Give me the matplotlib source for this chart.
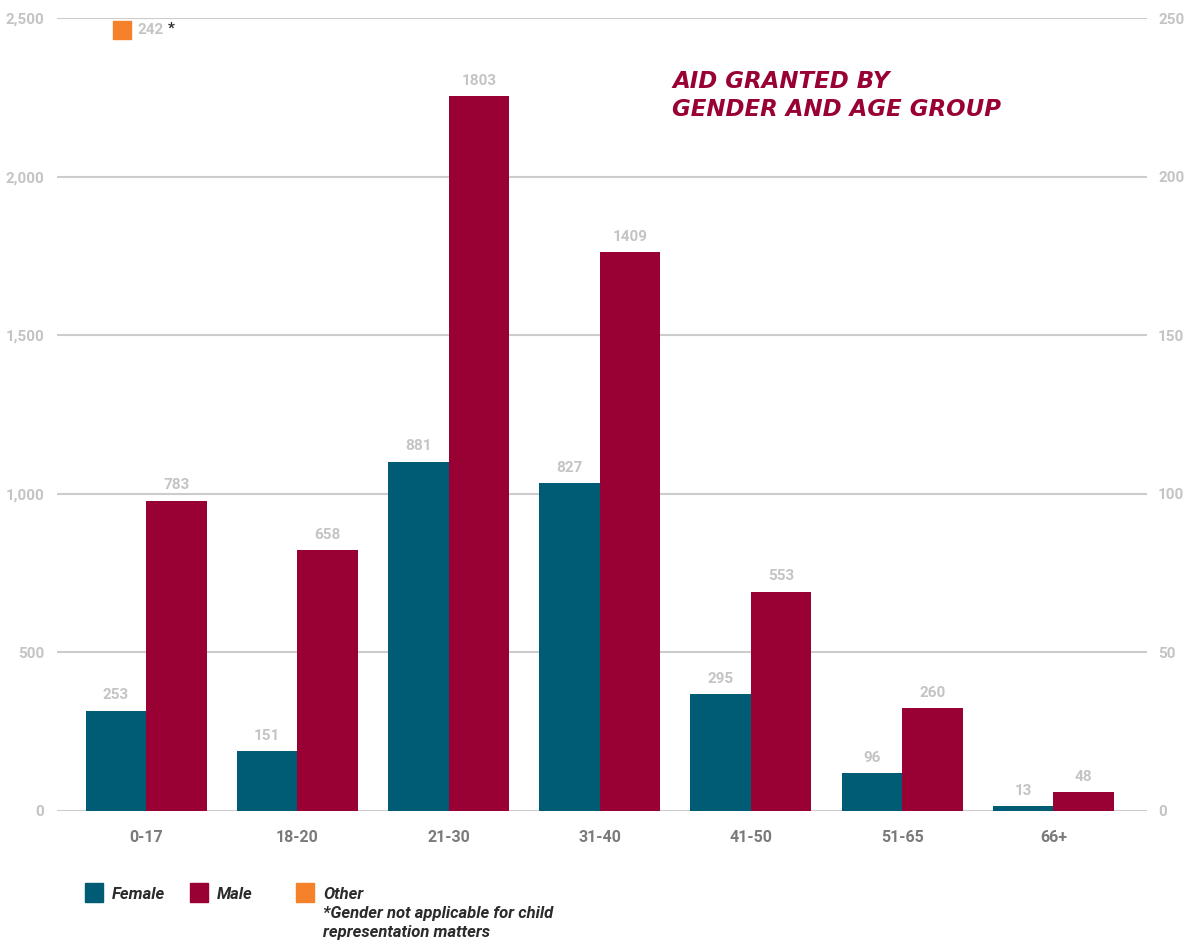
import matplotlib.pyplot as plt
import numpy as np
from matplotlib.patches import Rectangle
from matplotlib.ticker import FixedLocator, FuncFormatter
from matplotlib.transforms import ScaledTranslation

age_groups = ['0-17', '18-20', '21-30', '31-40', '41-50', '51-65', '66+']
female = [253, 151, 881, 827, 295, 96, 13]
male = [783, 658, 1803, 1409, 553, 260, 48]
other = 242  # only applies to 0-17

left_ticks = [0, 500, 1000, 1500, 2000, 2500]
right_ticks = [0, 50, 100, 150, 200, 250]
AXIS_SCALE = 1.25  # left axis labels run 1.25x the bar scale

TEAL = '#005b74'
CRIMSON = '#990033'
ORANGE = '#f5822a'
GRID = '#cccccc'
LIGHT = '#c4c4c4'
DARK = '#7a7a7a'
INK = '#2b2b2b'

plt.rcParams['font.family'] = ['Roboto', 'DejaVu Sans']

fig = plt.figure(figsize=(11.86, 9.44), dpi=100)
ax = fig.add_axes([57 / 1186, 1 - 811 / 944, 1090 / 1186, 793 / 944])

x = np.arange(len(age_groups))
width = 0.40
bf = ax.bar(x - width / 2, female, width, color=TEAL, zorder=3)
bm = ax.bar(x + width / 2, male, width, color=CRIMSON, zorder=3)
for rects, vals in ((bf, female), (bm, male)):
    ax.bar_label(rects, labels=[str(v) for v in vals], padding=6,
                 color=LIGHT, fontsize=11, fontweight='bold')

ax.set_xlim(-0.59, len(age_groups) - 1 + 0.62)
ax.set_ylim(0, left_ticks[-1] / AXIS_SCALE)
ax.yaxis.set_major_locator(FixedLocator([t / AXIS_SCALE for t in left_ticks]))
ax.yaxis.set_major_formatter(FuncFormatter(lambda v, p: f'{v * AXIS_SCALE:,.0f}'))
ax.grid(axis='y', color=GRID, linewidth=1.5, zorder=0)
ax.set_xticks(x, age_groups)
for s in ax.spines.values():
    s.set_visible(False)
ax.tick_params(axis='y', length=0, pad=9, labelcolor=LIGHT, labelsize=11)
ax.tick_params(axis='x', length=0, pad=14, labelcolor=DARK, labelsize=11.5)
for lbl in ax.get_yticklabels() + ax.get_xticklabels():
    lbl.set_fontweight('bold')

# secondary scale for the "Other" group
ax2 = ax.twinx()
ax2.set_ylim(0, right_ticks[-1])
ax2.set_yticks(right_ticks)
for s in ax2.spines.values():
    s.set_visible(False)
ax2.tick_params(axis='y', length=0, pad=8, labelcolor=LIGHT, labelsize=11)
for lbl in ax2.get_yticklabels():
    lbl.set_fontweight('bold')
lift = ax2.transData + ScaledTranslation(0, 0.13, fig.dpi_scale_trans)
ax2.scatter([-0.16], [other], marker='s', s=150, color=ORANGE, zorder=4,
            transform=lift)
ax2.annotate(f'{other}', (-0.16, other), xycoords=lift, xytext=(11, 0),
             textcoords='offset points', va='center', ha='left', color=LIGHT,
             fontsize=11, fontweight='bold')
ax2.annotate('*', (-0.16, other), xycoords=lift, xytext=(33, 1),
             textcoords='offset points', va='center', ha='left', color=INK,
             fontsize=11, fontweight='bold')

fig.text(672 / 1186, 1 - 70 / 944, 'AID GRANTED BY\nGENDER AND AGE GROUP',
         family=['DejaVu Sans'], fontsize=16.5, fontweight='bold',
         fontstyle='italic', color=CRIMSON, ha='left', va='top', linespacing=1.25)

# legend along the bottom
legend_items = [(85, TEAL, 'Female'), (190, CRIMSON, 'Male'),
                (296, ORANGE, 'Other\n*Gender not applicable for child\nrepresentation matters')]
for px, col, text in legend_items:
    fig.patches.append(Rectangle((px / 1186, 1 - 902 / 944), 18 / 1186, 19 / 944,
                                 transform=fig.transFigure, color=col))
    fig.text((px + 27) / 1186, 1 - 887 / 944, text, fontsize=12, fontweight='bold',
             fontstyle='italic', color=INK, ha='left', va='top', linespacing=1.35)

fig.savefig('out.png', dpi=100)
